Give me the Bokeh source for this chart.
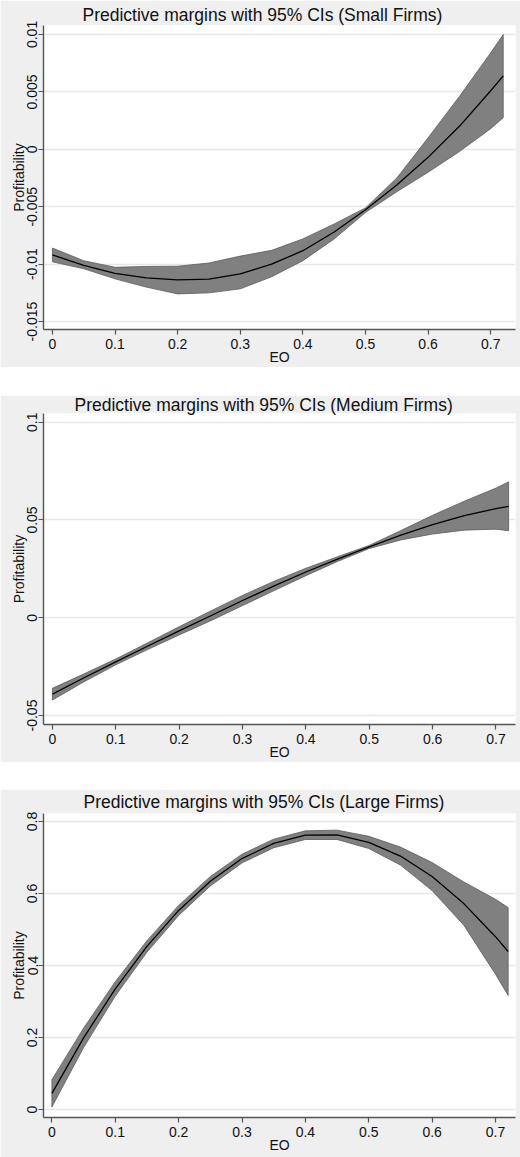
from bokeh.plotting import figure
from bokeh.layouts import column
from bokeh.models import Spacer, FixedTicker, Range1d, Title
from bokeh.embed import file_html
from bokeh.resources import INLINE

# EO values at which the margins were evaluated
eo = [0.00, 0.05, 0.10, 0.15, 0.20, 0.25, 0.30, 0.35,
      0.40, 0.45, 0.50, 0.55, 0.60, 0.65, 0.70, 0.72]

# Small firms: predictive margin and 95% CI bounds
small_margin = [-0.0092, -0.0101, -0.0108, -0.0112, -0.01137, -0.0113, -0.01085, -0.0100,
                -0.00883, -0.0072, -0.00527, -0.0031, -0.0007, 0.0020, 0.0051, 0.0064]
small_upper = [-0.0086, -0.0097, -0.01027, -0.0102, -0.01018, -0.0099, -0.0093, -0.0088,
               -0.0078, -0.0065, -0.0051, -0.0025, 0.0010, 0.0046, 0.0084, 0.0100]
small_lower = [-0.0098, -0.0104, -0.01128, -0.0120, -0.01259, -0.0125, -0.01215, -0.0111,
               -0.0097, -0.0078, -0.0055, -0.0037, -0.0020, -0.0002, 0.0018, 0.00275]

# Medium firms
medium_margin = [-0.0391, -0.0307, -0.0226, -0.0146, -0.0067, 0.0010, 0.0088, 0.0163,
                 0.0234, 0.0300, 0.0362, 0.0422, 0.0476, 0.0522, 0.0558, 0.0570]
medium_upper = [-0.0361, -0.0287, -0.0211, -0.0129, -0.0046, 0.0035, 0.0114, 0.0187,
                0.0253, 0.0312, 0.0370, 0.0446, 0.0524, 0.0596, 0.0663, 0.0695]
medium_lower = [-0.0421, -0.0327, -0.0241, -0.0163, -0.0088, -0.0015, 0.0062, 0.0139,
                0.0215, 0.0288, 0.0354, 0.0398, 0.0428, 0.0448, 0.0453, 0.0445]

# Large firms
large_margin = [0.045, 0.199, 0.335, 0.453, 0.553, 0.634, 0.697, 0.739,
                0.762, 0.763, 0.742, 0.704, 0.647, 0.572, 0.480, 0.439]
large_upper = [0.083, 0.226, 0.355, 0.469, 0.567, 0.647, 0.709, 0.751,
               0.774, 0.776, 0.759, 0.729, 0.686, 0.632, 0.584, 0.561]
large_lower = [0.007, 0.172, 0.315, 0.437, 0.539, 0.621, 0.685, 0.727,
               0.750, 0.750, 0.725, 0.679, 0.608, 0.512, 0.376, 0.317]

# Axis ticks and their labels
x_ticks = [0.0, 0.1, 0.2, 0.3, 0.4, 0.5, 0.6, 0.7]
x_tick_labels = ["0", "0.1", "0.2", "0.3", "0.4", "0.5", "0.6", "0.7"]
small_y_ticks = [-0.015, -0.01, -0.005, 0.0, 0.005, 0.01]
small_y_labels = ["-0.015", "-0.01", "-0.005", "0", "0.005", "0.01"]
medium_y_ticks = [-0.05, 0.0, 0.05, 0.1]
medium_y_labels = ["-0.05", "0", "0.05", "0.1"]
large_y_ticks = [0.0, 0.2, 0.4, 0.6, 0.8]
large_y_labels = ["0", "0.2", "0.4", "0.6", "0.8"]

titles = ["Predictive margins with 95% CIs (Small Firms)",
          "Predictive margins with 95% CIs (Medium Firms)",
          "Predictive margins with 95% CIs (Large Firms)"]

FONT = "Liberation Sans"
OUTER = "#efefef"
AXIS = "#555555"
TEXT = "#111111"


def panel(title, margin, upper, lower, yticks, ylabels, xr, yr,
          height, left, right, top, bottom, title_left, title_standoff):
    heading = Title(text=title, align="left", offset=title_left - left,
                    vertical_align="middle", standoff=title_standoff,
                    text_font=FONT, text_font_size="17.5px",
                    text_font_style="normal", text_color=TEXT)
    p = figure(width=520, height=height, output_backend="svg", title=heading,
               toolbar_location=None, x_range=Range1d(*xr), y_range=Range1d(*yr),
               min_border_left=left, min_border_right=right,
               min_border_top=top, min_border_bottom=bottom)
    p.background_fill_color = "white"
    p.border_fill_color = OUTER
    p.outline_line_color = None

    # confidence band as a closed polygon, then the margin line on top
    band_x = list(eo) + list(reversed(eo))
    band_y = list(upper) + list(reversed(lower))
    p.patch(band_x, band_y, fill_color="#808080", line_color="#5c5c5c", line_width=0.8)
    p.line(eo, margin, line_color="black", line_width=1.3)

    p.xgrid.visible = False
    p.ygrid.ticker = FixedTicker(ticks=yticks)
    p.ygrid.grid_line_color = "#e7e7e7"
    p.ygrid.grid_line_width = 1.5

    xa = p.xaxis[0]
    xa.ticker = FixedTicker(ticks=x_ticks)
    xa.major_label_overrides = dict(zip(x_ticks, x_tick_labels))
    xa.axis_label = "EO"
    xa.major_label_standoff = 4
    xa.axis_label_standoff = -3

    ya = p.yaxis[0]
    ya.ticker = FixedTicker(ticks=yticks)
    ya.major_label_overrides = dict(zip(yticks, ylabels))
    ya.major_label_orientation = "vertical"
    ya.axis_label = "Profitability"
    ya.major_label_standoff = 1
    ya.axis_label_standoff = -2

    for ax in (xa, ya):
        ax.axis_line_color = AXIS
        ax.axis_line_width = 1.4
        ax.major_tick_line_color = AXIS
        ax.major_tick_line_width = 1.2
        ax.major_tick_out = 5
        ax.major_tick_in = 0
        ax.minor_tick_line_color = None
        ax.major_label_text_font = FONT
        ax.major_label_text_font_size = "14px"
        ax.major_label_text_color = TEXT
        ax.axis_label_text_font = FONT
        ax.axis_label_text_font_size = "14px"
        ax.axis_label_text_font_style = "normal"
        ax.axis_label_text_color = TEXT
    return p


p1 = panel(titles[0], small_margin, small_upper, small_lower,
           small_y_ticks, small_y_labels,
           (-0.01425, 0.7396), (-0.01569, 0.01078),
           367, 39, 5, 25, 37, 78, 0)
p2 = panel(titles[1], medium_margin, medium_upper, medium_lower,
           medium_y_ticks, medium_y_labels,
           (-0.01405, 0.7308), (-0.0546, 0.10445),
           367, 40, 3, 18, 38, 71, -5)
p3 = panel(titles[2], large_margin, large_upper, large_lower,
           large_y_ticks, large_y_labels,
           (-0.01326, 0.7316), (-0.0222, 0.8222),
           368, 43, 5, 24, 40, 83, 1)

layout = column(p1, Spacer(width=520, height=28), p2, Spacer(width=520, height=27), p3)

open("out.html", "w").write(file_html(layout, INLINE))
